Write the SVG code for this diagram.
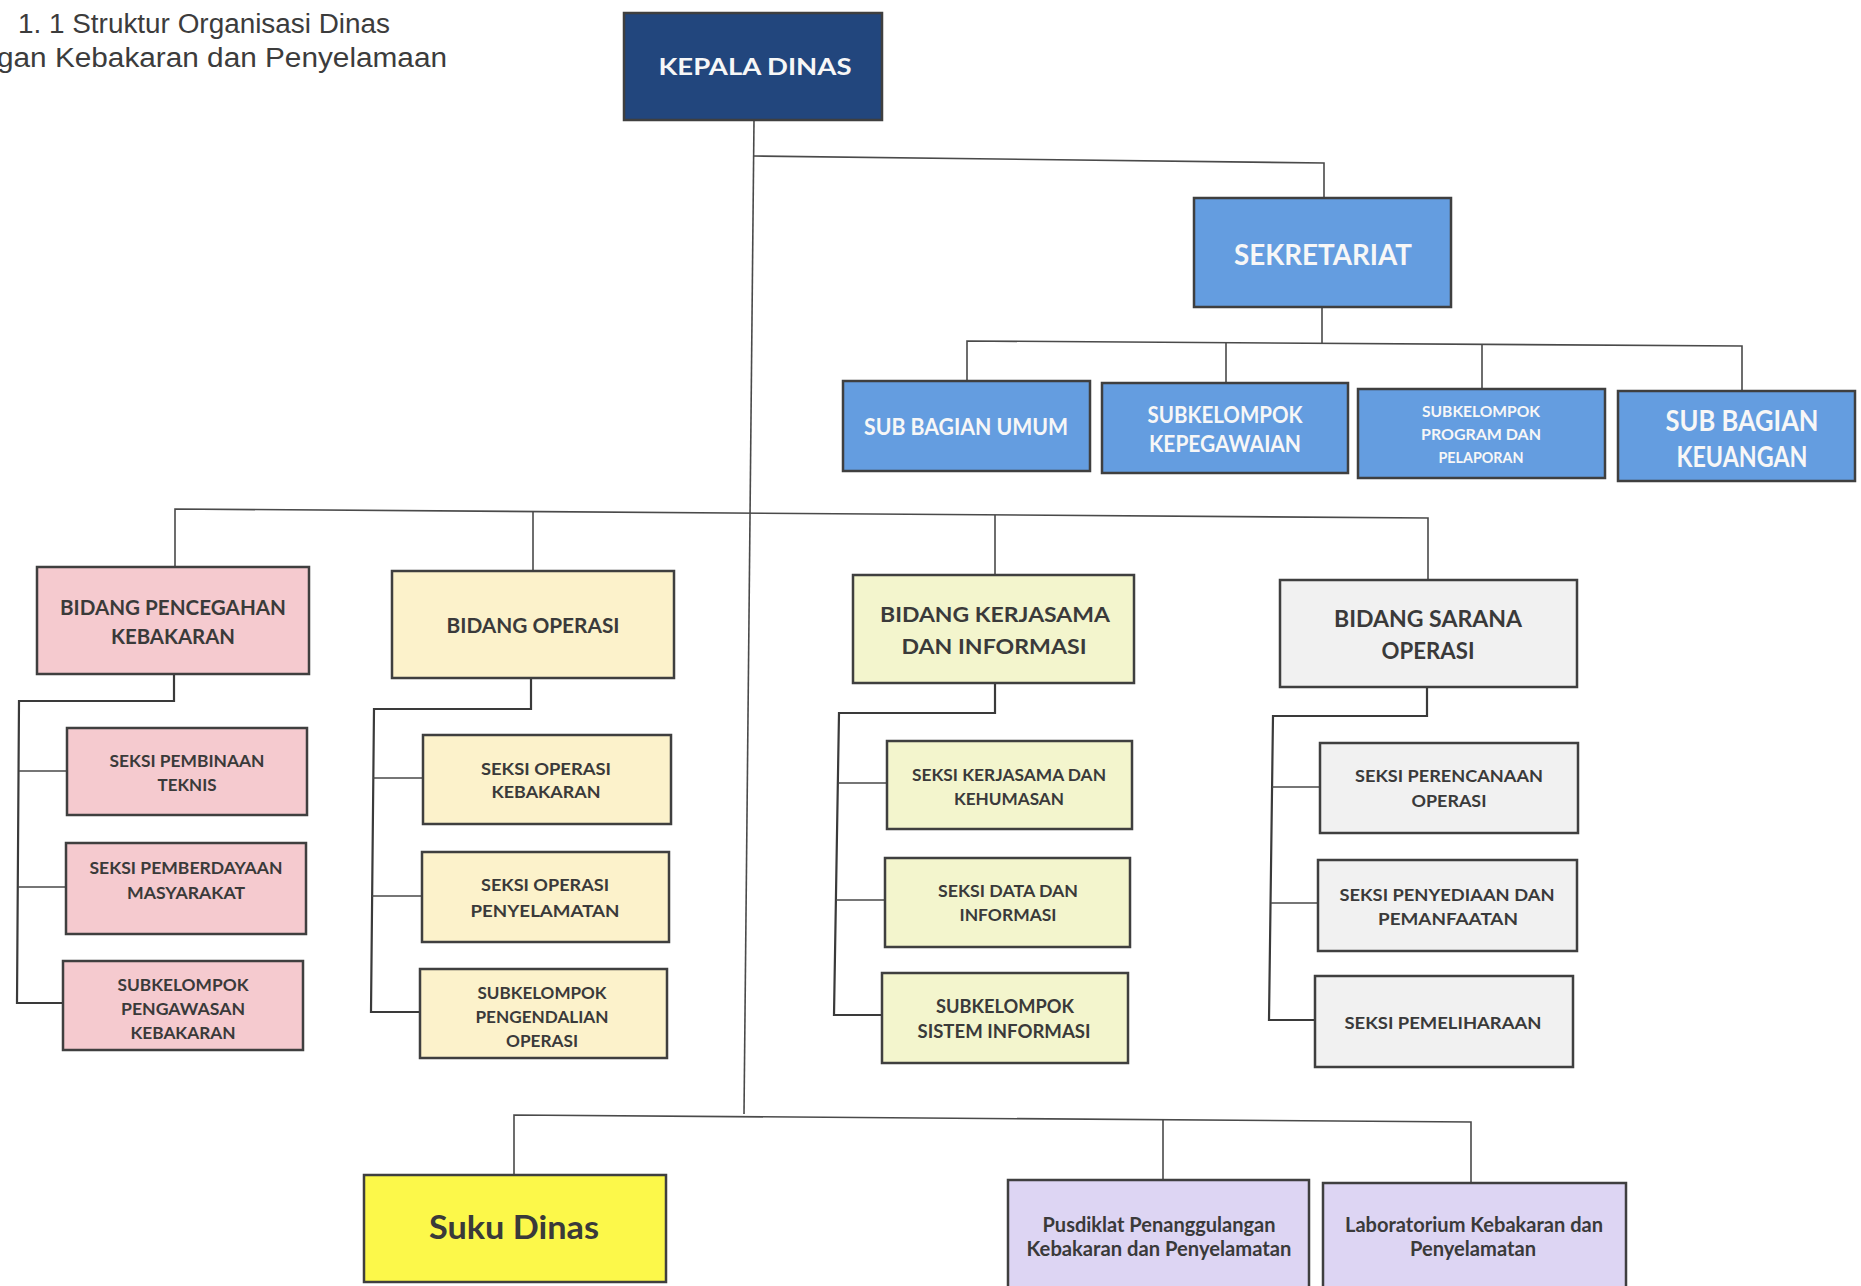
<svg xmlns="http://www.w3.org/2000/svg" width="1861" height="1286" viewBox="0 0 1861 1286">
<style>
.bx{stroke:#3f3f3f;stroke-width:2.5}
.navy{fill:#22467d}
.blue{fill:#649de0}
.pink{fill:#f5cacf}
.yel{fill:#fcf2cb}
.grn{fill:#f3f5cd}
.gry{fill:#f1f1f1}
.suku{fill:#fcf84a}
.lav{fill:#ddd5f3}
.t{font-family:Lato,"Open Sans",sans-serif;font-weight:700;fill:#3a3a3a;text-anchor:middle}
.w{fill:#f7f7f7}
.cn{fill:none;stroke:#4a4a4a;stroke-width:1.6}
.cb{fill:none;stroke:#3a3a3a;stroke-width:2.2}
.title{font-family:"Liberation Sans",Arial,sans-serif;font-size:27px;fill:#3c3c3c}
</style>
<rect width="1861" height="1286" fill="#ffffff"/>

<g id="title">
<text class="title" x="18" y="33" textLength="372" lengthAdjust="spacingAndGlyphs">1. 1 Struktur Organisasi Dinas</text>
<text class="title" x="-3" y="67" textLength="450" lengthAdjust="spacingAndGlyphs">gan Kebakaran dan Penyelamaan</text>
</g>

<g id="connectors">
<path class="cn" d="M754,120 L744,1114"/>
<path class="cn" d="M754,156 L1324,163 L1324,198"/>
<path class="cn" d="M1322,307 L1322,343"/>
<path class="cn" d="M967,381 L967,341 L1742,346 L1742,391"/>
<path class="cn" d="M1226,343 L1226,383"/>
<path class="cn" d="M1482,345 L1482,389"/>
<path class="cn" d="M175,567 L175,509 L1428,518 L1428,580"/>
<path class="cn" d="M533,512 L533,571"/>
<path class="cn" d="M995,515 L995,575"/>
<path class="cb" d="M174,674 L174,701 L19,701 L17,1003 L63,1003"/>
<path class="cn" d="M19,771 L67,771 M18,887 L66,887"/>
<path class="cb" d="M531,678 L531,709 L374,709 L371,1012 L420,1012"/>
<path class="cn" d="M373,778 L423,778 M372,896 L422,896"/>
<path class="cb" d="M995,683 L995,713 L839,713 L834,1015 L882,1015"/>
<path class="cn" d="M838,783 L887,783 M836,900 L885,900"/>
<path class="cb" d="M1427,687 L1427,716 L1273,716 L1269,1020 L1315,1020"/>
<path class="cn" d="M1272,787 L1320,787 M1271,903 L1318,903"/>
<path class="cn" d="M514,1175 L514,1115 L1471,1122 L1471,1183"/>
<path class="cn" d="M1163,1119 L1163,1180"/>
</g>

<g id="kepala-dinas">
<rect class="bx navy" x="624" y="13" width="258" height="107"/>
<text class="t w" x="755" y="75" font-size="22" textLength="193" lengthAdjust="spacingAndGlyphs">KEPALA DINAS</text>
</g>

<g id="sekretariat">
<rect class="bx blue" x="1194" y="198" width="257" height="109"/>
<text class="t w" x="1323" y="265" font-size="29" textLength="178" lengthAdjust="spacingAndGlyphs">SEKRETARIAT</text>
</g>

<g id="sub-bagian-umum">
<rect class="bx blue" x="843" y="381" width="247" height="90"/>
<text class="t w" x="966" y="435" font-size="22" textLength="204" lengthAdjust="spacingAndGlyphs">SUB BAGIAN UMUM</text>
</g>

<g id="subkelompok-kepegawaian">
<rect class="bx blue" x="1102" y="383" width="246" height="90"/>
<text class="t w" x="1225" y="423" font-size="22" textLength="155" lengthAdjust="spacingAndGlyphs">SUBKELOMPOK</text>
<text class="t w" x="1225" y="452" font-size="22" textLength="152" lengthAdjust="spacingAndGlyphs">KEPEGAWAIAN</text>
</g>

<g id="subkelompok-program">
<rect class="bx blue" x="1358" y="389" width="247" height="89"/>
<text class="t w" x="1481" y="417" font-size="16" textLength="118" lengthAdjust="spacingAndGlyphs">SUBKELOMPOK</text>
<text class="t w" x="1481" y="440" font-size="16" textLength="120" lengthAdjust="spacingAndGlyphs">PROGRAM DAN</text>
<text class="t w" x="1481" y="463" font-size="16" textLength="85" lengthAdjust="spacingAndGlyphs">PELAPORAN</text>
</g>

<g id="sub-bagian-keuangan">
<rect class="bx blue" x="1618" y="391" width="237" height="90"/>
<text class="t w" x="1742" y="431" font-size="28" textLength="153" lengthAdjust="spacingAndGlyphs">SUB BAGIAN</text>
<text class="t w" x="1742" y="467" font-size="28" textLength="131" lengthAdjust="spacingAndGlyphs">KEUANGAN</text>
</g>

<g id="bidang-pencegahan">
<rect class="bx pink" x="37" y="567" width="272" height="107"/>
<text class="t" x="173" y="615" font-size="21" textLength="226" lengthAdjust="spacingAndGlyphs">BIDANG PENCEGAHAN</text>
<text class="t" x="173" y="644" font-size="21" textLength="124" lengthAdjust="spacingAndGlyphs">KEBAKARAN</text>
</g>

<g id="bidang-operasi">
<rect class="bx yel" x="392" y="571" width="282" height="107"/>
<text class="t" x="533" y="633" font-size="20" textLength="173" lengthAdjust="spacingAndGlyphs">BIDANG OPERASI</text>
</g>

<g id="bidang-kerjasama">
<rect class="bx grn" x="853" y="575" width="281" height="108"/>
<text class="t" x="995" y="622" font-size="21" textLength="230" lengthAdjust="spacingAndGlyphs">BIDANG KERJASAMA</text>
<text class="t" x="994" y="654" font-size="21" textLength="185" lengthAdjust="spacingAndGlyphs">DAN INFORMASI</text>
</g>

<g id="bidang-sarana">
<rect class="bx gry" x="1280" y="580" width="297" height="107"/>
<text class="t" x="1428" y="627" font-size="22" textLength="188" lengthAdjust="spacingAndGlyphs">BIDANG SARANA</text>
<text class="t" x="1428" y="659" font-size="22" textLength="93" lengthAdjust="spacingAndGlyphs">OPERASI</text>
</g>

<g id="seksi-pembinaan">
<rect class="bx pink" x="67" y="728" width="240" height="87"/>
<text class="t" x="187" y="767" font-size="17.5" textLength="155" lengthAdjust="spacingAndGlyphs">SEKSI PEMBINAAN</text>
<text class="t" x="187" y="791" font-size="17.5" textLength="59" lengthAdjust="spacingAndGlyphs">TEKNIS</text>
</g>

<g id="seksi-pemberdayaan">
<rect class="bx pink" x="66" y="843" width="240" height="91"/>
<text class="t" x="186" y="874" font-size="17.5" textLength="193" lengthAdjust="spacingAndGlyphs">SEKSI PEMBERDAYAAN</text>
<text class="t" x="186" y="899" font-size="17.5" textLength="118" lengthAdjust="spacingAndGlyphs">MASYARAKAT</text>
</g>

<g id="subkelompok-pengawasan">
<rect class="bx pink" x="63" y="961" width="240" height="89"/>
<text class="t" x="183" y="991" font-size="17.5" textLength="131" lengthAdjust="spacingAndGlyphs">SUBKELOMPOK</text>
<text class="t" x="183" y="1015" font-size="17.5" textLength="124" lengthAdjust="spacingAndGlyphs">PENGAWASAN</text>
<text class="t" x="183" y="1039" font-size="17.5" textLength="105" lengthAdjust="spacingAndGlyphs">KEBAKARAN</text>
</g>

<g id="seksi-operasi-kebakaran">
<rect class="bx yel" x="423" y="735" width="248" height="89"/>
<text class="t" x="546" y="775" font-size="17.5" textLength="130" lengthAdjust="spacingAndGlyphs">SEKSI OPERASI</text>
<text class="t" x="546" y="798" font-size="17.5" textLength="109" lengthAdjust="spacingAndGlyphs">KEBAKARAN</text>
</g>

<g id="seksi-operasi-penyelamatan">
<rect class="bx yel" x="422" y="852" width="247" height="90"/>
<text class="t" x="545" y="891" font-size="17.5" textLength="128" lengthAdjust="spacingAndGlyphs">SEKSI OPERASI</text>
<text class="t" x="545" y="917" font-size="17.5" textLength="149" lengthAdjust="spacingAndGlyphs">PENYELAMATAN</text>
</g>

<g id="subkelompok-pengendalian">
<rect class="bx yel" x="420" y="969" width="247" height="89"/>
<text class="t" x="542" y="999" font-size="17.5" textLength="129" lengthAdjust="spacingAndGlyphs">SUBKELOMPOK</text>
<text class="t" x="542" y="1023" font-size="17.5" textLength="133" lengthAdjust="spacingAndGlyphs">PENGENDALIAN</text>
<text class="t" x="542" y="1047" font-size="17.5" textLength="72" lengthAdjust="spacingAndGlyphs">OPERASI</text>
</g>

<g id="seksi-kerjasama">
<rect class="bx grn" x="887" y="741" width="245" height="88"/>
<text class="t" x="1009" y="781" font-size="17.5" textLength="194" lengthAdjust="spacingAndGlyphs">SEKSI KERJASAMA DAN</text>
<text class="t" x="1009" y="805" font-size="17.5" textLength="110" lengthAdjust="spacingAndGlyphs">KEHUMASAN</text>
</g>

<g id="seksi-data">
<rect class="bx grn" x="885" y="858" width="245" height="89"/>
<text class="t" x="1008" y="897" font-size="17.5" textLength="140" lengthAdjust="spacingAndGlyphs">SEKSI DATA DAN</text>
<text class="t" x="1008" y="921" font-size="17.5" textLength="97" lengthAdjust="spacingAndGlyphs">INFORMASI</text>
</g>

<g id="subkelompok-sistem">
<rect class="bx grn" x="882" y="973" width="246" height="90"/>
<text class="t" x="1005" y="1013" font-size="19" textLength="138" lengthAdjust="spacingAndGlyphs">SUBKELOMPOK</text>
<text class="t" x="1004" y="1038" font-size="19" textLength="173" lengthAdjust="spacingAndGlyphs">SISTEM INFORMASI</text>
</g>

<g id="seksi-perencanaan">
<rect class="bx gry" x="1320" y="743" width="258" height="90"/>
<text class="t" x="1449" y="782" font-size="17.5" textLength="188" lengthAdjust="spacingAndGlyphs">SEKSI PERENCANAAN</text>
<text class="t" x="1449" y="807" font-size="17.5" textLength="75" lengthAdjust="spacingAndGlyphs">OPERASI</text>
</g>

<g id="seksi-penyediaan">
<rect class="bx gry" x="1318" y="860" width="259" height="91"/>
<text class="t" x="1447" y="901" font-size="17.5" textLength="215" lengthAdjust="spacingAndGlyphs">SEKSI PENYEDIAAN DAN</text>
<text class="t" x="1448" y="925" font-size="17.5" textLength="140" lengthAdjust="spacingAndGlyphs">PEMANFAATAN</text>
</g>

<g id="seksi-pemeliharaan">
<rect class="bx gry" x="1315" y="976" width="258" height="91"/>
<text class="t" x="1443" y="1029" font-size="17.5" textLength="197" lengthAdjust="spacingAndGlyphs">SEKSI PEMELIHARAAN</text>
</g>

<g id="suku-dinas">
<rect class="bx suku" x="364" y="1175" width="302" height="107"/>
<text class="t" x="514" y="1239" font-size="33" textLength="170" lengthAdjust="spacingAndGlyphs">Suku Dinas</text>
</g>

<g id="pusdiklat">
<rect class="bx lav" x="1008" y="1180" width="301" height="112"/>
<text class="t" x="1159" y="1232" font-size="20" textLength="233" lengthAdjust="spacingAndGlyphs">Pusdiklat Penanggulangan</text>
<text class="t" x="1159" y="1256" font-size="20" textLength="265" lengthAdjust="spacingAndGlyphs">Kebakaran dan Penyelamatan</text>
</g>

<g id="laboratorium">
<rect class="bx lav" x="1323" y="1183" width="303" height="112"/>
<text class="t" x="1474" y="1232" font-size="20" textLength="258" lengthAdjust="spacingAndGlyphs">Laboratorium Kebakaran dan</text>
<text class="t" x="1473" y="1256" font-size="20" textLength="126" lengthAdjust="spacingAndGlyphs">Penyelamatan</text>
</g>
</svg>
